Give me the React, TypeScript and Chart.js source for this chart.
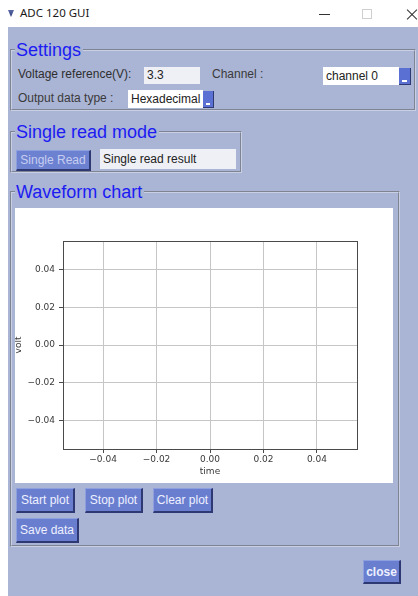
import React, { useEffect, useRef } from "react";
import { Chart, registerables } from "chart.js";

Chart.register(...registerables);

// ---- chart data (the waveform is empty in the reference) ----
const timeValues: number[] = [];
const voltValues: number[] = [];
const xTickValues = [-0.04, -0.02, 0, 0.02, 0.04];
const yTickValues = [-0.04, -0.02, 0, 0.02, 0.04];
const xAxisMin = -0.055;
const xAxisMax = 0.055;
const yAxisMin = -0.055;
const yAxisMax = 0.055;
const xAxisLabel = "time";
const yAxisLabel = "volt";

const fmtTick = (v: number) => {
  const s = Math.abs(v).toFixed(2);
  return v < -1e-9 ? "\u2212" + s : s;
};

const framePlugin = {
  id: "axesFrame",
  afterDraw(chart: any) {
    const { ctx, chartArea } = chart;
    const l = Math.round(chartArea.left) + 0.5;
    const t = Math.round(chartArea.top) + 0.5;
    const r = Math.round(chartArea.right) + 0.5;
    const b = Math.round(chartArea.bottom) + 0.5;
    ctx.save();
    ctx.strokeStyle = "#4a4a4a";
    ctx.lineWidth = 1;
    ctx.strokeRect(l, t, r - l, b - t);
    ctx.restore();
  },
};

const BG = "#aab4d5";
const BLUE_TEXT = "#1c1cf2";
const UI_FONT = '"Liberation Sans", Arial, sans-serif';
const TEXT_COLOR = "#2e2e2e";

function WaveChart() {
  const ref = useRef<HTMLCanvasElement | null>(null);
  useEffect(() => {
    if (!ref.current) return;
    const tickFont = { family: '"DejaVu Sans", sans-serif', size: 9 };
    const chart = new Chart(ref.current, {
      type: "scatter",
      data: {
        datasets: [
          {
            label: "volt",
            data: timeValues.map((t, i) => ({ x: t, y: voltValues[i] })),
            showLine: true,
            borderColor: "#1f77b4",
            pointRadius: 0,
          },
        ],
      },
      plugins: [framePlugin],
      options: {
        animation: false,
        responsive: false,
        maintainAspectRatio: false,
        layout: { padding: { top: 33, right: 36, left: 0, bottom: 0 } },
        plugins: { legend: { display: false }, tooltip: { enabled: false } },
        scales: {
          x: {
            type: "linear",
            min: xAxisMin,
            max: xAxisMax,
            afterBuildTicks: (s: any) => {
              s.ticks = xTickValues.map((v) => ({ value: v }));
            },
            afterFit: (s: any) => {
              s.height = 34;
            },
            grid: { color: "#c6c6c6", lineWidth: 1, tickColor: "#4a4a4a", tickLength: 4, drawTicks: true },
            border: { display: false },
            ticks: {
              color: "#3a3a3a",
              font: tickFont,
              padding: 1,
              maxRotation: 0,
              autoSkip: false,
              callback: (v: any) => fmtTick(Number(v)),
            },
            title: {
              display: true,
              text: xAxisLabel,
              color: "#3a3a3a",
              font: tickFont,
              padding: { top: 0, bottom: 5.5 },
            },
          },
          y: {
            type: "linear",
            min: yAxisMin,
            max: yAxisMax,
            afterBuildTicks: (s: any) => {
              s.ticks = yTickValues.map((v) => ({ value: v }));
            },
            afterFit: (s: any) => {
              s.width = 48;
            },
            grid: { color: "#c6c6c6", lineWidth: 1, tickColor: "#4a4a4a", tickLength: 4, drawTicks: true },
            border: { display: false },
            ticks: {
              color: "#3a3a3a",
              font: tickFont,
              padding: 4,
              autoSkip: false,
              callback: (v: any) => fmtTick(Number(v)),
            },
            title: {
              display: true,
              text: yAxisLabel,
              color: "#3a3a3a",
              font: tickFont,
              padding: { top: -2, bottom: 0 },
            },
          },
        },
      } as any,
    });
    return () => chart.destroy();
  }, []);
  return (
    <canvas
      ref={ref}
      width={378}
      height={275}
      style={{ position: "absolute", left: 15, top: 208, width: 378, height: 275, background: "#ffffff" }}
    />
  );
}

const abs = (left: number, top: number, width?: number, height?: number): React.CSSProperties => ({
  position: "absolute",
  left,
  top,
  width,
  height,
  boxSizing: "border-box",
});

function Label({ x, y, text, color = TEXT_COLOR }: { x: number; y: number; text: string; color?: string }) {
  return (
    <div style={{ ...abs(x, y - 9, undefined, 18), lineHeight: "18px", font: `12px ${UI_FONT}`, color, whiteSpace: "nowrap" }}>
      {text}
    </div>
  );
}

function Group({ x, y, w, h, title }: { x: number; y: number; w: number; h: number; title: string }) {
  return (
    <>
      <div style={{ ...abs(x, y - 1, w, h), border: "2px groove #c9d0e6" }} />
      <div
        style={{
          ...abs(x + 5, y - 10.5, undefined, 21),
          lineHeight: "21px",
          font: `18px ${UI_FONT}`,
          color: BLUE_TEXT,
          background: BG,
          padding: "0 2px 0 1px",
          whiteSpace: "nowrap",
        }}
      >
        {title}
      </div>
    </>
  );
}

function Button({
  x, y, w, h, text, bold = false, textColor = "#eef1ff", face = "#6a7ecf",
}: { x: number; y: number; w: number; h: number; text: string; bold?: boolean; textColor?: string; face?: string }) {
  return (
    <div
      style={{
        ...abs(x, y, w, h),
        background: face,
        borderTop: "1px solid #8e9fe0",
        borderLeft: "1px solid #8e9fe0",
        borderRight: "2px solid #2e3872",
        borderBottom: "2px solid #2e3872",
        color: textColor,
        font: `${bold ? "bold " : ""}12px ${UI_FONT}`,
        display: "flex",
        alignItems: "center",
        justifyContent: "center",
        whiteSpace: "nowrap",
      }}
    >
      {text}
    </div>
  );
}

function Entry({ x, y, w, h, text, bg = "#eff0f5" }: { x: number; y: number; w: number; h: number; text: string; bg?: string }) {
  return (
    <div
      style={{
        ...abs(x, y, w, h),
        background: bg,
        font: `12px ${UI_FONT}`,
        color: "#222",
        lineHeight: `${h}px`,
        paddingLeft: 3,
        whiteSpace: "nowrap",
        overflow: "hidden",
      }}
    >
      {text}
    </div>
  );
}

function Combo({ x, y, w, h, text, bw }: { x: number; y: number; w: number; h: number; text: string; bw: number }) {
  return (
    <>
      <Entry x={x} y={y} w={w} h={h} text={text} bg="#ffffff" />
      <div style={{ ...abs(x + w, y + 1, bw, h - 1), background: "#5a70d2", borderRight: "1px solid #2e3872", borderBottom: "1px solid #2e3872" }}>
        <div style={{ ...abs(3, h - 6, bw - 7, 2), background: "#ffffff" }} />
      </div>
    </>
  );
}

export default function App() {
  return (
    <div style={{ position: "absolute", left: 0, top: 0, width: 418, height: 596, background: "#ffffff", overflow: "hidden" }}>
      {/* title bar */}
      <div style={{ ...abs(8, 10, 6, 7), background: "linear-gradient(#5a6aa8, #2c3a78)", clipPath: "polygon(0 0,100% 0,50% 100%)" }} />
      <div style={{ ...abs(20, 5, undefined, 18), lineHeight: "18px", font: '11.5px "Noto Sans", sans-serif', color: "#1a1a1a", whiteSpace: "nowrap" }}>
        ADC 120 GUI
      </div>
      <div style={{ ...abs(319, 14, 11, 1), background: "#333" }} />
      <div style={{ ...abs(362, 9, 10, 10), border: "1px solid #cfcfcf" }} />
      <div style={{ ...abs(405, 13.5, 14, 1), background: "#333", transform: "rotate(45deg)" }} />
      <div style={{ ...abs(405, 13.5, 14, 1), background: "#333", transform: "rotate(-45deg)" }} />

      {/* window body */}
      <div style={{ ...abs(8, 27, 410, 569), background: BG }} />

      {/* Settings */}
      <Group x={10} y={50} w={406} h={62} title="Settings" />
      <Label x={18} y={75.5} text="Voltage reference(V):" />
      <Entry x={144} y={67} w={56} h={17} text="3.3" />
      <Label x={212} y={75.5} text="Channel :" color="#3a3a3a" />
      <Combo x={323} y={67} w={76} h={18} text="channel 0" bw={12} />
      <Label x={18} y={100} text="Output data type :" color="#3a3a3a" />
      <Combo x={128} y={90} w={75} h={18} text="Hexadecimal" bw={11} />

      {/* Single read mode */}
      <Group x={10} y={132} w={232} h={42} title="Single read mode" />
      <Button x={16} y={150} w={75} h={21} text="Single Read" textColor="#c6cef0" face="#6d81d1" />
      <Entry x={100} y={149} w={136} h={20} text="Single read result" />

      {/* Waveform chart */}
      <Group x={10} y={192} w={390} h={356} title="Waveform chart" />
      <WaveChart />
      <Button x={16} y={488} w={59} h={25} text="Start plot" />
      <Button x={85} y={488} w={58} h={25} text="Stop plot" />
      <Button x={153} y={488} w={60} h={25} text="Clear plot" />
      <Button x={16} y={518} w={63} h={25} text="Save data" />

      <Button x={363} y={560} w={38} h={24} text="close" bold />
    </div>
  );
}
